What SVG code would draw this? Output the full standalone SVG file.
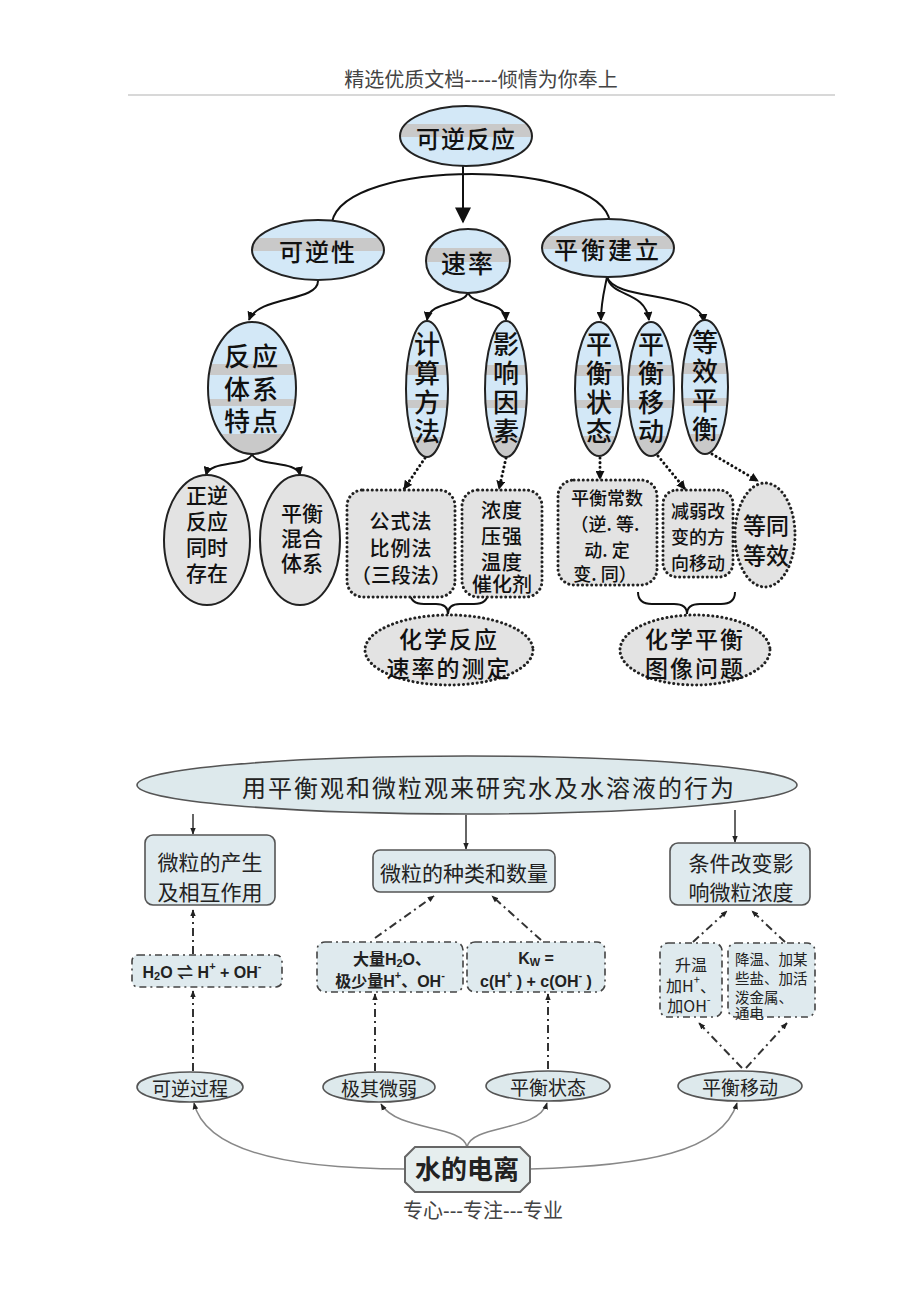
<svg xmlns="http://www.w3.org/2000/svg" width="920" height="1302" viewBox="0 0 920 1302">
<defs>
<linearGradient id="gH" x1="0" y1="0" x2="0" y2="1">
<stop offset="0" stop-color="#d3e8f7"/><stop offset="0.3" stop-color="#d3e8f7"/><stop offset="0.3" stop-color="#c9c9c9"/><stop offset="0.52" stop-color="#c9c9c9"/><stop offset="0.52" stop-color="#d3e8f7"/><stop offset="1" stop-color="#d3e8f7"/>
</linearGradient>
<linearGradient id="gV" x1="0" y1="0" x2="0" y2="1">
<stop offset="0" stop-color="#d3e8f7"/><stop offset="0.32" stop-color="#d3e8f7"/><stop offset="0.32" stop-color="#c9c9c9"/><stop offset="0.4" stop-color="#c9c9c9"/><stop offset="0.4" stop-color="#d3e8f7"/><stop offset="0.58" stop-color="#d3e8f7"/><stop offset="0.58" stop-color="#c9c9c9"/><stop offset="0.64" stop-color="#c9c9c9"/><stop offset="0.64" stop-color="#d3e8f7"/><stop offset="0.85" stop-color="#d3e8f7"/><stop offset="0.85" stop-color="#c9c9c9"/><stop offset="1" stop-color="#c9c9c9"/>
</linearGradient>
<marker id="ah" viewBox="0 0 10 10" refX="9" refY="5" markerWidth="9" markerHeight="9" markerUnits="userSpaceOnUse" orient="auto"><path d="M0,0 L10,5 L0,10 z" fill="#111"/></marker>
<marker id="ahB" viewBox="0 0 10 10" refX="9" refY="5" markerWidth="18" markerHeight="16" markerUnits="userSpaceOnUse" orient="auto"><path d="M0,0 L10,5 L0,10 z" fill="#111"/></marker>
<marker id="ahS" viewBox="0 0 10 10" refX="9" refY="5" markerWidth="7" markerHeight="7" markerUnits="userSpaceOnUse" orient="auto"><path d="M0,1 L10,5 L0,9 z" fill="#222"/></marker>
<style>
.hdr{font-family:"Liberation Sans","Noto Sans CJK SC",sans-serif;font-size:20px;fill:#444;text-anchor:middle}
.t{font-family:"Noto Sans CJK SC",sans-serif;fill:#111;text-anchor:middle;dominant-baseline:central;font-weight:500}
.b{font-family:"Noto Sans CJK SC",sans-serif;fill:#222;text-anchor:middle;dominant-baseline:central}
.bl{font-family:"Noto Sans CJK SC",sans-serif;fill:#222;text-anchor:start;dominant-baseline:central}
.f{font-family:"Liberation Sans","Noto Sans CJK SC",sans-serif;fill:#222;text-anchor:middle;dominant-baseline:central;font-weight:bold}
.eH{fill:url(#gH);stroke:#222;stroke-width:2}
.eV{fill:url(#gV);stroke:#222;stroke-width:2}
.eG{fill:#e3e3e3;stroke:#222;stroke-width:2}
.dot{fill:#e3e3e3;stroke:#222;stroke-width:3;stroke-dasharray:0.1 4.5;stroke-linecap:round}
.cT{fill:none;stroke:#111;stroke-width:2}
.cD{fill:none;stroke:#111;stroke-width:3;stroke-dasharray:0.1 4.5;stroke-linecap:round}
.bx{fill:#dfeaee;stroke:#555;stroke-width:1.6}
.dd{fill:#dfeaee;stroke:#444;stroke-width:1.6;stroke-dasharray:7 4 2 4}
.el{fill:#dde9ec;stroke:#555;stroke-width:1.6}
.cS{fill:none;stroke:#333;stroke-width:1.5}
.cDD{fill:none;stroke:#333;stroke-width:2;stroke-dasharray:8 4 2 4}
.cG{fill:none;stroke:#888;stroke-width:1.5}
</style>
</defs>
<rect width="920" height="1302" fill="#ffffff"/>
<g id="header">
<text class="hdr" x="481" y="87">精选优质文档-----倾情为你奉上</text>
<line x1="128" y1="95" x2="835" y2="95" stroke="#d8d8d8" stroke-width="2"/>
</g>
<g id="connectors">
<path class="cT" d="M463,166 L463,222" stroke-width="4" marker-end="url(#ahB)"/>
<path class="cT" d="M332,222 C345,158 600,158 610,222" stroke-width="4"/>
<path class="cT" d="M318,281 C318,302 258,296 249,320" marker-end="url(#ah)"/>
<path class="cT" d="M468,292 C465,306 430,300 427,320" marker-end="url(#ah)"/>
<path class="cT" d="M468,292 C471,306 505,300 506,320" marker-end="url(#ah)"/>
<path class="cT" d="M252,454 C248,467 210,460 206,475" marker-end="url(#ah)"/>
<path class="cT" d="M252,454 C256,467 297,460 300,475" marker-end="url(#ah)"/>
<path class="cT" d="M607,277 C604,292 601,302 601,320" marker-end="url(#ah)"/>
<path class="cT" d="M607,277 C612,298 645,290 649,320" marker-end="url(#ah)"/>
<path class="cT" d="M607,277 C616,302 700,290 704,322" marker-end="url(#ah)"/>
<path class="cD" d="M425,458 L404,489" marker-end="url(#ah)"/>
<path class="cD" d="M506,458 L499,489" marker-end="url(#ah)"/>
<path class="cD" d="M600,458 L600,479" marker-end="url(#ah)"/>
<path class="cD" d="M658,456 L685,489" marker-end="url(#ah)"/>
<path class="cD" d="M712,454 L758,481" marker-end="url(#ah)"/>
<path class="cT" stroke-width="1.5" d="M410,592 Q410,604 424,604 L436,604 Q448,604 448,614 Q448,604 460,604 L474,604 Q488,604 488,592"/>
<path class="cT" stroke-width="1.5" d="M638,592 Q638,604 652,604 L674,604 Q687,604 687,614 Q687,604 700,604 L721,604 Q735,604 735,592"/>
<path class="cS" d="M193,814 L193,834" marker-end="url(#ahS)"/>
<path class="cS" d="M466,815 L466,849" marker-end="url(#ahS)"/>
<path class="cS" d="M735,810 L735,842" marker-end="url(#ahS)"/>
<path class="cDD" d="M193,954 L193,910" marker-end="url(#ahS)"/>
<path class="cDD" d="M193,1071 L193,991" marker-end="url(#ahS)"/>
<path class="cDD" d="M375,938 L434,896" marker-end="url(#ahS)"/>
<path class="cDD" d="M541,940 L492,896" marker-end="url(#ahS)"/>
<path class="cDD" d="M375,1071 L375,994" marker-end="url(#ahS)"/>
<path class="cDD" d="M548,1069 L548,994" marker-end="url(#ahS)"/>
<path class="cDD" d="M693,942 L727,911" marker-end="url(#ahS)"/>
<path class="cDD" d="M785,942 L752,911" marker-end="url(#ahS)"/>
<path class="cDD" d="M742,1068 L699,1023" marker-end="url(#ahS)"/>
<path class="cDD" d="M746,1068 L787,1023" marker-end="url(#ahS)"/>
<path class="cG" d="M405,1169 C285,1169 205,1150 194,1103" marker-end="url(#ahS)"/>
<path class="cG" d="M467,1147 C462,1124 398,1132 381,1104" marker-end="url(#ahS)"/>
<path class="cG" d="M467,1147 C472,1124 538,1132 547,1103" marker-end="url(#ahS)"/>
<path class="cG" d="M530,1169 C645,1166 722,1152 737,1103" marker-end="url(#ahS)"/>
</g>
<g id="n-kenifanying"><ellipse class="eH" cx="466" cy="136" rx="66" ry="30"/><text class="t" x="466" y="137" font-size="24" letter-spacing="1">可逆反应</text></g>
<g id="n-keni"><ellipse class="eH" cx="318" cy="250" rx="66" ry="30"/><text class="t" x="318" y="250" font-size="24" letter-spacing="2">可逆性</text></g>
<g id="n-sulv"><ellipse class="eH" cx="468" cy="261" rx="42" ry="32"/><text class="t" x="468" y="262" font-size="25" letter-spacing="2">速率</text></g>
<g id="n-pingheng"><ellipse class="eH" cx="608" cy="248" rx="66" ry="29"/><text class="t" x="608" y="248" font-size="24" letter-spacing="3">平衡建立</text></g>
<g id="n-tixi"><ellipse class="eV" cx="252" cy="388" rx="44" ry="66"/>
<text class="t" x="252" y="354" font-size="26" letter-spacing="2">反应</text><text class="t" x="252" y="387" font-size="26" letter-spacing="2">体系</text><text class="t" x="252" y="419" font-size="26" letter-spacing="2">特点</text></g>
<g id="n-jisuan"><ellipse class="eV" cx="427" cy="389" rx="21" ry="68"/>
<text class="t" x="427" y="342" font-size="26">计</text><text class="t" x="427" y="371" font-size="26">算</text><text class="t" x="427" y="400" font-size="26">方</text><text class="t" x="427" y="429" font-size="26">法</text></g>
<g id="n-yingxiang"><ellipse class="eV" cx="506" cy="389" rx="21" ry="68"/>
<text class="t" x="506" y="342" font-size="26">影</text><text class="t" x="506" y="371" font-size="26">响</text><text class="t" x="506" y="400" font-size="26">因</text><text class="t" x="506" y="429" font-size="26">素</text></g>
<g id="n-phzt"><ellipse class="eV" cx="599" cy="389" rx="24" ry="67"/>
<text class="t" x="599" y="342" font-size="26">平</text><text class="t" x="599" y="371" font-size="26">衡</text><text class="t" x="599" y="400" font-size="26">状</text><text class="t" x="599" y="429" font-size="26">态</text></g>
<g id="n-phyd"><ellipse class="eV" cx="651" cy="389" rx="23" ry="67"/>
<text class="t" x="651" y="342" font-size="26">平</text><text class="t" x="651" y="371" font-size="26">衡</text><text class="t" x="651" y="400" font-size="26">移</text><text class="t" x="651" y="429" font-size="26">动</text></g>
<g id="n-dxph"><ellipse class="eV" cx="705" cy="387" rx="23" ry="67"/>
<text class="t" x="705" y="340" font-size="26">等</text><text class="t" x="705" y="369" font-size="26">效</text><text class="t" x="705" y="398" font-size="26">平</text><text class="t" x="705" y="427" font-size="26">衡</text></g>
<g id="n-zhengni"><ellipse class="eG" cx="207" cy="540" rx="43" ry="65"/>
<text class="t" x="207" y="494" font-size="21">正逆</text><text class="t" x="207" y="520" font-size="21">反应</text><text class="t" x="207" y="546" font-size="21">同时</text><text class="t" x="207" y="572" font-size="21">存在</text></g>
<g id="n-hunhe"><ellipse class="eG" cx="300" cy="540" rx="40" ry="65"/>
<text class="t" x="302" y="512" font-size="21">平衡</text><text class="t" x="302" y="537" font-size="21">混合</text><text class="t" x="302" y="562" font-size="21">体系</text></g>
<g id="n-gongshi"><rect class="dot" x="347" y="490" width="108" height="107" rx="16"/>
<text class="t" x="401" y="520" font-size="20" letter-spacing="1">公式法</text><text class="t" x="401" y="547" font-size="20" letter-spacing="1">比例法</text><text class="t" x="401" y="574" font-size="20">（三段法）</text></g>
<g id="n-nongdu"><rect class="dot" x="462" y="490" width="80" height="107" rx="16"/>
<text class="t" x="502" y="509" font-size="20" letter-spacing="1">浓度</text><text class="t" x="502" y="535" font-size="20" letter-spacing="1">压强</text><text class="t" x="502" y="561" font-size="20" letter-spacing="1">温度</text><text class="t" x="502" y="583" font-size="20">催化剂</text></g>
<g id="n-changshu"><rect class="dot" x="558" y="480" width="99" height="105" rx="16"/>
<text class="t" x="607" y="497" font-size="18">平衡常数</text><text class="t" x="605" y="523" font-size="18">（逆. 等.</text><text class="t" x="607" y="549" font-size="18">动.  定</text><text class="t" x="605" y="573" font-size="18">变. 同）</text></g>
<g id="n-jianruo"><rect class="dot" x="663" y="490" width="70" height="87" rx="14"/>
<text class="t" x="698" y="510" font-size="18">减弱改</text><text class="t" x="698" y="536" font-size="18">变的方</text><text class="t" x="698" y="562" font-size="18">向移动</text></g>
<g id="n-dengtong"><ellipse class="dot" cx="765" cy="535" rx="30" ry="52"/>
<text class="t" x="766" y="524" font-size="23">等同</text><text class="t" x="766" y="554" font-size="23">等效</text></g>
<g id="n-cedian"><ellipse class="dot" cx="449" cy="650" rx="84" ry="35"/>
<text class="t" x="449" y="638" font-size="23" letter-spacing="2">化学反应</text><text class="t" x="449" y="667" font-size="23" letter-spacing="2">速率的测定</text></g>
<g id="n-tuxiang"><ellipse class="dot" cx="695" cy="650" rx="75" ry="35"/>
<text class="t" x="695" y="638" font-size="23" letter-spacing="2">化学平衡</text><text class="t" x="695" y="667" font-size="23" letter-spacing="2">图像问题</text></g>
<g id="n-main2"><ellipse class="el" cx="467" cy="785" rx="330" ry="29"/>
<text class="b" x="489" y="786" font-size="24" letter-spacing="2">用平衡观和微粒观来研究水及水溶液的行为</text></g>
<g id="n-chansheng"><rect class="bx" x="145" y="835" width="130" height="70" rx="8"/>
<text class="b" x="210" y="861" font-size="21">微粒的产生</text><text class="b" x="210" y="891" font-size="21">及相互作用</text></g>
<g id="n-zhonglei"><rect class="bx" x="373" y="850" width="182" height="42" rx="7"/>
<text class="b" x="464" y="872" font-size="21">微粒的种类和数量</text></g>
<g id="n-tiaojian"><rect class="bx" x="670" y="843" width="140" height="62" rx="8"/>
<text class="b" x="741" y="862" font-size="21">条件改变影</text><text class="b" x="741" y="891" font-size="21">响微粒浓度</text></g>
<g id="n-h2o"><rect class="dd" x="132" y="955" width="150" height="32" rx="6"/>
<text class="f" x="202" y="972" font-size="16">H<tspan font-size="11" dy="4">2</tspan><tspan dy="-4">O ⇌ H</tspan><tspan font-size="11" dy="-6">+</tspan><tspan dy="6"> + OH</tspan><tspan font-size="11" dy="-6">-</tspan></text></g>
<g id="n-daliang"><rect class="dd" x="317" y="942" width="146" height="50" rx="8"/>
<text class="f" x="392" y="959" font-size="16">大量H<tspan font-size="11" dy="4">2</tspan><tspan dy="-4">O、</tspan></text>
<text class="f" x="390" y="981" font-size="16">极少量H<tspan font-size="11" dy="-6">+</tspan><tspan dy="6">、OH</tspan><tspan font-size="11" dy="-6">-</tspan></text></g>
<g id="n-kw"><rect class="dd" x="467" y="942" width="138" height="50" rx="8"/>
<text class="f" x="536" y="958" font-size="16">K<tspan font-size="11" dy="4">W</tspan><tspan dy="-4"> =</tspan></text>
<text class="f" x="536" y="981" font-size="16">c(H<tspan font-size="11" dy="-6">+</tspan><tspan dy="6"> ) + c(OH</tspan><tspan font-size="11" dy="-6">-</tspan><tspan dy="6"> )</tspan></text></g>
<g id="n-shengwen"><rect class="dd" x="660" y="943" width="62" height="74" rx="8"/>
<text class="b" x="691" y="964" font-size="16">升温</text>
<text class="b" x="691" y="985" font-size="16">加H<tspan font-size="11" dy="-6">+</tspan><tspan dy="6">、</tspan></text>
<text class="b" x="689" y="1005" font-size="16">加OH<tspan font-size="11" dy="-6">-</tspan></text></g>
<g id="n-jiangwen"><rect class="dd" x="728" y="943" width="87" height="74" rx="8"/>
<text class="bl" x="735" y="958" font-size="14.5">降温、加某</text>
<text class="bl" x="735" y="977" font-size="14.5">些盐、加活</text>
<text class="bl" x="735" y="996" font-size="14.5">泼金属、</text>
<text class="bl" x="735" y="1012" font-size="14.5">通电</text></g>
<g id="n-kenigc"><ellipse class="el" cx="190" cy="1087" rx="53" ry="15"/><text class="b" x="190" y="1087" font-size="19">可逆过程</text></g>
<g id="n-jiqi"><ellipse class="el" cx="379" cy="1087" rx="56" ry="15"/><text class="b" x="379" y="1087" font-size="19">极其微弱</text></g>
<g id="n-phzt2"><ellipse class="el" cx="548" cy="1086" rx="62" ry="15"/><text class="b" x="548" y="1086" font-size="19">平衡状态</text></g>
<g id="n-phyd2"><ellipse class="el" cx="740" cy="1086" rx="62" ry="15"/><text class="b" x="740" y="1086" font-size="19">平衡移动</text></g>
<g id="n-dianli"><polygon points="415,1147 520,1147 530,1157 530,1182 520,1192 415,1192 405,1182 405,1157" fill="#e6eeee" stroke="#666" stroke-width="2"/>
<text class="f" x="467" y="1170" font-size="26" font-family="Noto Sans CJK SC, sans-serif">水的电离</text></g>
<g id="footer"><text class="hdr" x="483" y="1218">专心---专注---专业</text></g>
</svg>
